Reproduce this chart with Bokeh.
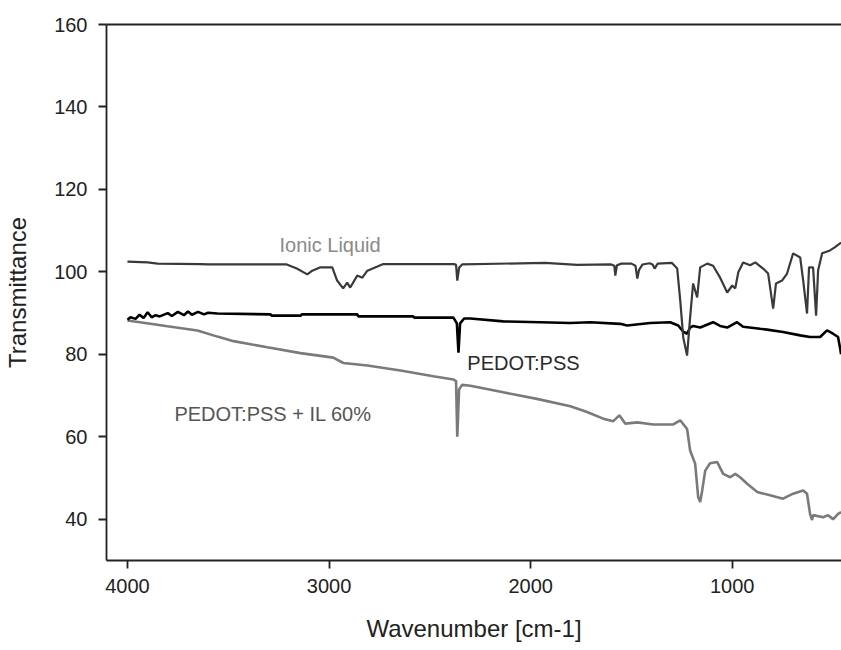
from bokeh.plotting import figure
from bokeh.models import Range1d, FixedTicker, LinearAxis, ColumnDataSource
from bokeh.core.properties import value
from bokeh.embed import file_html
from bokeh.resources import INLINE

# ---- data ----
il_wn = [4000, 3900, 3850, 3640, 3600, 3210, 3160, 3108, 3083, 3043, 2984, 2960, 2930, 2910,
         2895, 2860, 2835, 2810, 2760, 2731, 2380, 2370, 2364, 2355, 2340, 1928, 1769, 1600,
         1585, 1580, 1572, 1550, 1500, 1480, 1471, 1462, 1445, 1410, 1395, 1385, 1370, 1300,
         1273, 1258, 1243, 1224, 1209, 1194, 1174, 1159, 1124, 1095, 1060, 1025, 1000, 985,
         970, 946, 911, 886, 847, 822, 797, 783, 753, 728, 698, 663, 648, 629, 619, 599, 584,
         574, 554, 515, 490, 460]
il_t = [102.5, 102.3, 102.0, 101.9, 101.8, 101.8, 100.8, 99.4, 100.3, 101.1, 101.1, 97.9, 96.0, 97.4,
        96.2, 99.1, 98.6, 100.3, 101.3, 101.9, 101.9, 101.7, 97.9, 101.0, 101.8, 102.2, 101.7, 101.8,
        101.5, 99.1, 101.6, 102.0, 102.0, 101.5, 98.4, 100.5, 101.8, 102.1, 101.8, 100.8, 102.0, 102.2,
        100.8, 93.1, 84.1, 79.7, 88.9, 97.2, 93.8, 101.1, 102.0, 101.5, 98.6, 95.0, 96.7, 96.0,
        99.9, 102.3, 101.6, 102.3, 100.8, 99.6, 91.1, 97.2, 97.9, 99.6, 104.5, 103.5, 97.9, 89.9, 101.1, 101.1, 89.4,
        100.4, 104.5, 105.2, 106.0, 107.1]

pedot_wn = [4000, 3985, 3960, 3940, 3920, 3900, 3880, 3860, 3840, 3800, 3780, 3750, 3720, 3700,
            3680, 3650, 3620, 3600, 3554, 3290, 3285, 3140, 3135, 2860, 2855, 2582, 2578, 2383,
            2366, 2358, 2350, 2330, 2299, 2136, 1952, 1804, 1704, 1556, 1521, 1407, 1308, 1268,
            1243, 1224, 1209, 1194, 1159, 1095, 1060, 1025, 976, 946, 862, 827, 748, 663, 614,
            564, 530, 500, 475, 465, 460]
pedot_t = [88.4, 89.0, 88.6, 89.6, 88.8, 90.2, 89.0, 89.5, 89.2, 90.0, 89.3, 90.3, 89.5, 90.4,
           89.6, 90.3, 89.7, 90.1, 89.9, 89.7, 89.4, 89.4, 89.7, 89.7, 89.2, 89.2, 88.9, 88.9,
           87.5, 80.4, 87.5, 88.7, 88.7, 88.0, 87.8, 87.6, 87.8, 87.4, 87.0, 87.6, 87.8, 87.0,
           85.5, 85.0, 86.5, 86.9, 86.5, 87.8, 86.9, 86.5, 87.8, 86.7, 86.2, 86.0, 85.4, 84.6, 84.2,
           84.2, 85.8, 85.0, 84.2, 81.5, 80.0]

mix_wn = [4000, 3886, 3802, 3653, 3554, 3474, 3306, 3142, 2979, 2929, 2810, 2646, 2483, 2383,
          2370, 2364, 2355, 2340, 2299, 2136, 1969, 1803, 1720, 1640, 1590, 1560, 1531, 1471,
          1392, 1293, 1258, 1224, 1209, 1184, 1169, 1159, 1149, 1134, 1110, 1075, 1045, 1010,
          985, 961, 926, 876, 812, 748, 698, 648, 629, 614, 604, 599, 549, 524, 500, 475, 460]
mix_t = [88.2, 87.4, 86.8, 85.8, 84.3, 83.2, 81.7, 80.3, 79.2, 77.9, 77.3, 76.1, 74.7, 73.9,
         73.5, 60.0, 71.5, 72.6, 72.4, 70.8, 69.2, 67.4, 66.0, 64.4, 63.8, 65.2, 63.2, 63.5,
         63.0, 63.0, 64.0, 61.9, 56.7, 53.5, 45.4, 44.2, 47.0, 51.8, 53.6, 53.9, 51.0, 50.2,
         51.0, 50.2, 48.6, 46.6, 45.8, 45.0, 46.2, 47.0, 46.2, 41.3, 39.8, 41.0, 40.5, 41.0, 40.0, 41.3, 41.7]

x_ticks = [4000, 3000, 2000, 1000]
y_ticks = [40, 60, 80, 100, 120, 140, 160]

label_texts = ["Ionic Liquid", "PEDOT:PSS", "PEDOT:PSS + IL 60%"]
label_wn = [3246, 2314, 3767]
label_t = [106.6, 78.0, 65.6]
label_colors = ["#8a8a8a", "#2a2a2a", "#555555"]

FONT = "Liberation Sans"

p = figure(width=841, height=650, output_backend="svg", toolbar_location=None,
           x_range=Range1d(4104, 458), y_range=Range1d(30, 160),
           min_border_left=106, min_border_right=0, min_border_top=24, min_border_bottom=90)
p.outline_line_color = None
p.grid.visible = False
p.background_fill_color = "white"
p.border_fill_color = "white"

for ax in (p.xaxis[0], p.yaxis[0]):
    ax.axis_line_color = "#222222"
    ax.axis_line_width = 1.8
    ax.major_tick_line_color = "#222222"
    ax.major_tick_line_width = 1.8
    ax.major_tick_in = 0
    ax.major_tick_out = 8
    ax.minor_tick_line_color = None
    ax.major_label_text_font = FONT
    ax.major_label_text_font_size = "20px"
    ax.major_label_text_color = "#222222"
    ax.axis_label_text_font = FONT
    ax.axis_label_text_font_size = "24px"
    ax.axis_label_text_font_style = "normal"
    ax.axis_label_text_color = "#222222"

p.xaxis[0].ticker = FixedTicker(ticks=x_ticks)
p.yaxis[0].ticker = FixedTicker(ticks=y_ticks)
p.xaxis[0].axis_label = "Wavenumber [cm-1]"
p.yaxis[0].axis_label = "Transmittance"
p.xaxis[0].major_label_standoff = 10
p.yaxis[0].major_label_standoff = 11
p.xaxis[0].axis_label_standoff = 19
p.yaxis[0].axis_label_standoff = 20

top = LinearAxis(ticker=FixedTicker(ticks=[]), axis_line_color="#222222", axis_line_width=1.8,
                 major_tick_line_color=None, minor_tick_line_color=None,
                 major_label_text_font_size="0px")
p.add_layout(top, "above")

p.line(mix_wn, mix_t, line_color="#7a7a7a", line_width=2.6)
p.line(pedot_wn, pedot_t, line_color="#000000", line_width=2.6)
p.line(il_wn, il_t, line_color="#3a3a3a", line_width=2.2)

src = ColumnDataSource(dict(x=label_wn, y=label_t, t=label_texts, c=label_colors))
p.text(x="x", y="y", text="t", text_color="c", source=src, text_font=value(FONT),
       text_font_size="20px", text_baseline="alphabetic", text_align="left")

open("out.html", "w").write(file_html(p, INLINE))
